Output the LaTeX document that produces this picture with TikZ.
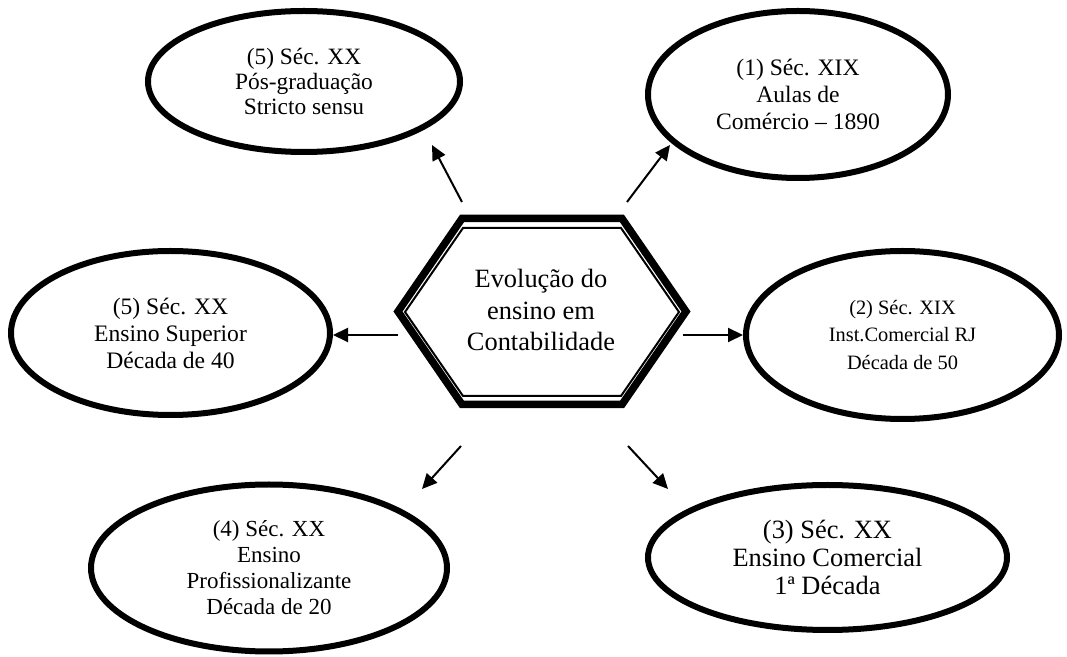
\documentclass[tikz,border=0pt]{standalone}
\usepackage{fontspec}
\setmainfont{Liberation Serif}
\usetikzlibrary{shapes.geometric,arrows.meta}

\begin{document}
\begin{tikzpicture}
        [x=0.5pt,y=-0.5pt,every node/.style={align=center,inner sep=0pt},
         era/.style={ellipse,draw,line width=3pt},
         arr/.style={line width=1pt,-{Triangle[length=7.5pt,width=7pt]}}]
        \useasboundingbox (0,0) rectangle (1067,657);

        \draw[line width=3.75pt] (398,311.5) -- (462,218.5) -- (622,218.5) -- (686,311.5)
            -- (622,404.5) -- (462,404.5) -- cycle;
        \draw[line width=1pt] (405,312) -- (463,228) -- (621,228) -- (679,312)
            -- (621,396) -- (463,396) -- cycle;
        \node[font=\fontsize{13.2}{15.75}\selectfont] (hex) at (541,310) {Evolução do\\ensino em\\Contabilidade};

        \node[era,minimum width=156pt,minimum height=70.5pt,font=\fontsize{11.7}{12.3}\selectfont]
            (posgrad) at (304,81.5) {(5) Séc. XX\\Pós-graduação\\Stricto sensu};
        \node[era,minimum width=150pt,minimum height=83.5pt,font=\fontsize{11.8}{13.3}\selectfont]
            (aulas) at (798,94.5) {(1) Séc. XIX\\Aulas de\\Comércio – 1890};
        \node[era,minimum width=159.5pt,minimum height=82pt,font=\fontsize{11.8}{13.5}\selectfont]
            (superior) at (170.5,333) {(5) Séc. XX\\Ensino Superior\\Década de 40};
        \node[era,minimum width=156.5pt,minimum height=84pt,font=\fontsize{10.2}{13.8}\selectfont]
            (instrj) at (902.5,335) {(2) Séc. XIX\\Inst.Comercial RJ\\Década de 50};
        \node[era,minimum width=178pt,minimum height=83.5pt,font=\fontsize{11.5}{13}\selectfont]
            (profis) at (269,568) {(4) Séc. XX\\Ensino\\Profissionalizante\\Década de 20};
        \node[era,minimum width=179.5pt,minimum height=72.5pt,font=\fontsize{13.2}{14}\selectfont]
            (comercial) at (827.5,557.5) {(3) Séc. XX\\Ensino Comercial\\1ª Década};

        \coordinate (s1) at (462,202); \coordinate (t1) at (432,145);
        \coordinate (s2) at (627,202); \coordinate (t2) at (670,145);
        \coordinate (s3) at (398,335); \coordinate (t3) at (333,335);
        \coordinate (s4) at (683,335); \coordinate (t4) at (743,335);
        \coordinate (s5) at (461,446); \coordinate (t5) at (422,489);
        \coordinate (s6) at (628,446); \coordinate (t6) at (668,489);

        \foreach \from/\to in {s1/t1, s2/t2, s3/t3, s4/t4, s5/t5, s6/t6}
            \draw[arr] (\from) -- (\to);

      \end{tikzpicture}
\end{document}
